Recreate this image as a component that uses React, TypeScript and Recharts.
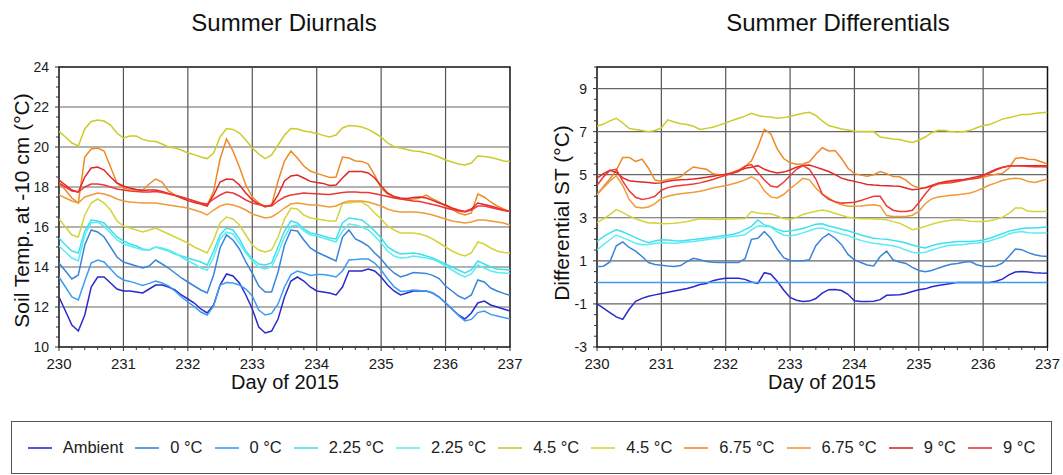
import React from 'react';
import { LineChart, Line, XAxis, YAxis, ReferenceLine, ReferenceArea } from 'recharts';

const FONT = '"Liberation Sans", Arial, Helvetica, sans-serif';

// ---------- categories (day of 2015) ----------
const days = [
  230.0, 230.1, 230.2, 230.3, 230.4, 230.5, 230.6, 230.7, 230.8, 230.9,
  231.0, 231.1, 231.2, 231.3, 231.4, 231.5, 231.6, 231.7, 231.8, 231.9,
  232.0, 232.1, 232.2, 232.3, 232.4, 232.5, 232.6, 232.7, 232.8, 232.9,
  233.0, 233.1, 233.2, 233.3, 233.4, 233.5, 233.6, 233.7, 233.8, 233.9,
  234.0, 234.1, 234.2, 234.3, 234.4, 234.5, 234.6, 234.7, 234.8, 234.9,
  235.0, 235.1, 235.2, 235.3, 235.4, 235.5, 235.6, 235.7, 235.8, 235.9,
  236.0, 236.1, 236.2, 236.3, 236.4, 236.5, 236.6, 236.7, 236.8, 236.9,
  237.0,
];

// ---------- Summer Diurnals (soil temperature, °C) ----------
const leftAmbient = [
  12.5, 11.8, 11.1, 10.8, 11.6, 13.0, 13.5, 13.5, 13.2, 12.9,
  12.8, 12.8, 12.75, 12.7, 12.9, 13.1, 13.1, 13.0, 12.85, 12.6,
  12.4, 12.2, 11.9, 11.7, 12.1, 13.1, 13.65, 13.55, 13.2, 12.6,
  11.9, 11.0, 10.7, 10.8, 11.4, 12.5, 13.3, 13.5, 13.3, 13.0,
  12.8, 12.75, 12.7, 12.6, 13.0, 13.8, 13.8, 13.8, 13.9, 13.8,
  13.5, 13.1, 12.8, 12.6, 12.7, 12.8, 12.8, 12.8, 12.7, 12.5,
  12.2, 11.9, 11.6, 11.4, 11.7, 12.2, 12.3, 12.1, 12.0, 11.9,
  11.8,
];
const left0a = [
  14.2, 13.8, 13.4, 13.6, 15.1, 15.85, 15.75, 15.5, 15.0, 14.5,
  14.25, 14.15, 14.05, 13.95, 14.05, 14.35, 14.15, 13.95, 13.7, 13.45,
  13.25, 13.05, 12.85, 12.7, 13.6, 14.95, 15.6, 15.35, 14.9, 14.25,
  13.7, 13.05, 12.75, 12.75, 13.75, 15.1, 15.85, 15.8, 15.35, 14.95,
  14.75, 14.6, 14.45, 14.3, 15.5, 15.85, 15.4, 15.25, 15.05, 14.7,
  14.4, 14.0, 13.7, 13.5, 13.6, 13.72, 13.7, 13.68, 13.58, 13.42,
  13.05, 12.8, 12.55, 12.4, 12.6, 13.35, 13.25, 12.95, 12.8, 12.68,
  12.58,
];
const left0b = [
  13.5, 13.0, 12.5, 12.35, 13.3, 14.2, 14.35, 14.25, 13.9, 13.55,
  13.35, 13.28, 13.18, 13.08, 13.18, 13.3, 13.2, 13.05, 12.8, 12.5,
  12.25, 12.02, 11.75, 11.6, 12.05, 13.1, 13.22, 13.2, 13.1, 12.9,
  12.55, 11.85, 11.6, 11.68, 12.15, 13.0, 13.62, 13.8, 13.7, 13.58,
  13.62, 13.62, 13.58, 13.5, 13.8, 14.35, 14.37, 14.4, 14.4, 14.2,
  13.85, 13.4, 13.02, 12.78, 12.8, 12.85, 12.82, 12.8, 12.7, 12.5,
  12.2, 11.9, 11.58, 11.3, 11.38, 11.72, 11.8, 11.63, 11.55, 11.47,
  11.4,
];
const left225a = [
  15.45, 15.1, 14.8, 14.7, 15.8, 16.35, 16.3, 16.2, 15.85, 15.5,
  15.3, 15.15, 15.05, 14.9, 14.85, 15.0, 14.9, 14.8, 14.65, 14.55,
  14.45, 14.35, 14.25, 14.1, 14.8, 15.6, 15.95, 15.85, 15.4, 14.8,
  14.4, 14.15, 14.1, 14.2, 15.0, 15.8, 16.3, 16.2, 15.9, 15.7,
  15.65, 15.55, 15.45, 15.4, 16.2, 16.45, 16.4, 16.35, 16.1, 15.8,
  15.45, 15.0, 14.8, 14.65, 14.68, 14.7, 14.65, 14.55, 14.45, 14.3,
  14.15, 14.0, 13.85, 13.7, 13.85, 14.3, 14.15, 14.0, 13.9, 13.88,
  13.85,
];
const left225b = [
  15.05, 14.75, 14.45, 14.3, 15.6, 16.2, 16.25, 16.05, 15.7, 15.35,
  15.15, 15.05, 14.95, 14.85, 14.85, 15.0, 14.95, 14.85, 14.7, 14.5,
  14.3, 14.15, 13.95, 13.85, 14.5, 15.4, 15.75, 15.65, 15.2, 14.7,
  14.3, 14.0, 13.9, 14.0, 14.7, 15.5, 16.05, 16.1, 15.8, 15.6,
  15.55, 15.45, 15.35, 15.25, 15.8, 16.15, 16.1, 16.0, 15.85, 15.55,
  15.2, 14.8, 14.55, 14.45, 14.48, 14.55, 14.5, 14.45, 14.38, 14.25,
  14.05, 13.85, 13.65, 13.5, 13.65, 14.1, 13.95, 13.8, 13.72, 13.7,
  13.68,
];
const left45a = [
  20.78, 20.5, 20.2, 20.05, 20.9, 21.28, 21.35, 21.3, 21.1, 20.7,
  20.45, 20.55, 20.55, 20.38, 20.3, 20.27, 20.15, 20.0, 19.95, 19.85,
  19.7, 19.62, 19.5, 19.42, 19.7, 20.5, 20.92, 20.88, 20.7, 20.35,
  19.95, 19.65, 19.42, 19.6, 20.1, 20.6, 20.92, 20.9, 20.8, 20.75,
  20.68, 20.58, 20.5, 20.6, 20.95, 21.07, 21.05, 21.0, 20.88, 20.7,
  20.5, 20.2, 20.02, 19.95, 19.88, 19.8, 19.77, 19.7, 19.62, 19.5,
  19.35, 19.25, 19.15, 19.1, 19.2, 19.55, 19.52, 19.48, 19.4, 19.3,
  19.27,
];
const left45b = [
  16.4, 16.0, 15.6, 15.5, 16.6, 17.2, 17.4, 17.2, 16.85, 16.3,
  16.05, 15.95, 15.85, 15.75, 15.85, 15.95, 15.8, 15.65, 15.5, 15.35,
  15.2, 15.0, 14.85, 14.7, 15.35, 16.2, 16.5, 16.4, 16.1, 15.6,
  15.1, 14.85, 14.75, 14.85, 15.5, 16.4, 16.95, 16.9, 16.6, 16.45,
  16.4, 16.35, 16.3, 16.3, 17.2, 17.2, 17.25, 17.25, 17.05, 16.7,
  16.4, 16.05, 15.85, 15.7, 15.7, 15.7, 15.65, 15.55, 15.4, 15.2,
  15.0, 14.8, 14.65, 14.55, 14.7, 15.25, 15.15, 14.95, 14.8, 14.72,
  14.7,
];
const left675a = [
  18.2, 17.85, 17.45, 17.2, 19.5, 19.9, 19.95, 19.8, 19.0, 18.2,
  17.95, 17.88, 17.85, 17.85, 18.15, 18.4, 18.25, 17.8, 17.6, 17.5,
  17.4, 17.3, 17.2, 17.1, 17.8, 19.4, 20.4, 19.8, 19.0, 18.1,
  17.5, 17.2, 17.0, 17.1, 18.3, 19.3, 19.8, 19.45, 19.05, 18.8,
  18.68, 18.58, 18.48, 18.5, 19.5, 19.45, 19.3, 19.28, 19.15, 18.6,
  17.95, 17.65, 17.5, 17.4, 17.38, 17.4, 17.45, 17.6, 17.4, 17.25,
  17.05, 16.9, 16.7, 16.6, 16.7, 17.65, 17.5, 17.25, 17.05, 16.9,
  16.77,
];
const left675b = [
  17.6, 17.45, 17.3, 17.2, 17.5, 17.6, 17.7, 17.65, 17.55, 17.4,
  17.3, 17.25, 17.22, 17.2, 17.2, 17.2, 17.15, 17.1, 17.05, 17.0,
  16.95, 16.85, 16.75, 16.6, 16.85, 17.05, 17.15, 17.1, 17.0, 16.85,
  16.65, 16.55, 16.45, 16.5, 16.7, 16.95, 17.15, 17.2, 17.15, 17.1,
  17.1, 17.05, 17.0, 17.05, 17.2, 17.3, 17.3, 17.3, 17.25, 17.15,
  17.05, 16.9, 16.8, 16.75, 16.75, 16.75, 16.72, 16.68, 16.6, 16.5,
  16.4, 16.3, 16.25, 16.2, 16.25, 16.35, 16.35, 16.3, 16.25, 16.2,
  16.1,
];
const left9a = [
  18.35, 18.1, 17.85, 17.75, 18.5, 18.95, 19.0, 18.85, 18.5, 18.2,
  18.05, 17.95, 17.88, 17.82, 17.85, 17.85, 17.78, 17.68, 17.58, 17.45,
  17.32, 17.22, 17.15, 17.05, 17.6, 18.25, 18.4, 18.38, 18.1, 17.7,
  17.35, 17.15, 17.02, 17.1, 17.6, 18.3, 18.55, 18.6, 18.45, 18.28,
  18.22, 18.18, 18.08, 18.1, 18.45, 18.77, 18.77, 18.77, 18.7, 18.45,
  18.05, 17.7, 17.52, 17.45, 17.43, 17.48, 17.5, 17.45, 17.33, 17.2,
  17.1, 16.95, 16.85, 16.78, 16.9, 17.2, 17.12, 17.05, 16.95, 16.85,
  16.77,
];
const left9b = [
  18.2, 18.0, 17.8, 17.75, 18.0, 18.15, 18.15, 18.1, 18.0, 17.9,
  17.85, 17.8, 17.78, 17.75, 17.75, 17.77, 17.72, 17.65, 17.58, 17.5,
  17.4, 17.3, 17.2, 17.15, 17.4, 17.6, 17.75, 17.7, 17.55, 17.35,
  17.2, 17.12, 17.05, 17.05, 17.3, 17.5, 17.6, 17.65, 17.7, 17.68,
  17.66, 17.64, 17.62, 17.68, 17.72, 17.75, 17.75, 17.73, 17.72, 17.66,
  17.6, 17.52, 17.45, 17.4, 17.35, 17.3, 17.27, 17.2, 17.12, 17.05,
  16.95, 16.87, 16.8, 16.75, 16.85, 17.05, 17.05, 16.98, 16.9, 16.83,
  16.77,
];

// ---------- Summer Differentials (°C) ----------
const rightAmbient = [
  -1.0, -1.2, -1.4, -1.6, -1.72, -1.25, -0.88, -0.74, -0.64, -0.58,
  -0.52, -0.46, -0.4, -0.34, -0.28, -0.2, -0.1, -0.05, 0.08, 0.15,
  0.19, 0.19, 0.19, 0.14, 0.02, -0.05, 0.45, 0.38, 0.05, -0.35,
  -0.7, -0.83, -0.89, -0.87, -0.75, -0.5, -0.34, -0.33, -0.38, -0.55,
  -0.85, -0.89, -0.89, -0.88, -0.8, -0.6, -0.58, -0.57, -0.52, -0.42,
  -0.34, -0.3, -0.2, -0.14, -0.1, -0.05, 0.0, 0.0, 0.0, 0.0,
  0.0, 0.0, 0.05, 0.15, 0.35, 0.48, 0.5, 0.48, 0.45, 0.43,
  0.42,
];
const right0a = [
  0.72, 0.75, 0.95, 1.7, 1.88, 1.62, 1.45, 1.2, 0.92, 0.83,
  0.8, 0.76, 0.74, 0.78, 0.97, 1.12, 1.05, 0.97, 0.94, 0.92,
  0.92, 0.92, 0.92, 1.1, 2.0, 2.05, 2.36, 2.05, 1.55, 1.15,
  1.02, 1.0, 1.0, 1.05, 1.7, 2.05, 2.25, 2.05, 1.75, 1.3,
  1.05, 0.92, 0.81, 0.76, 1.2, 1.45, 1.05, 0.95, 0.88, 0.7,
  0.55, 0.5, 0.55, 0.66, 0.76, 0.84, 0.88, 0.93, 0.97, 0.82,
  0.75, 0.74, 0.76, 0.89, 1.2, 1.55, 1.52, 1.38, 1.28, 1.22,
  1.2,
];
const right0b = [
  0, 0, 0, 0, 0, 0, 0, 0, 0, 0,
  0, 0, 0, 0, 0, 0, 0, 0, 0, 0,
  0, 0, 0, 0, 0, 0, 0, 0, 0, 0,
  0, 0, 0, 0, 0, 0, 0, 0, 0, 0,
  0, 0, 0, 0, 0, 0, 0, 0, 0, 0,
  0, 0, 0, 0, 0, 0, 0, 0, 0, 0,
  0, 0, 0, 0, 0, 0, 0, 0, 0, 0,
  0,
];
const right225a = [
  1.9, 2.12, 2.3, 2.44, 2.35, 2.22, 2.08, 1.95, 1.84, 1.92,
  1.98, 1.97, 1.93, 1.92, 1.96, 1.99, 2.03, 2.06, 2.1, 2.14,
  2.18, 2.22, 2.3, 2.45, 2.6, 2.9, 2.67, 2.6, 2.46, 2.36,
  2.38, 2.44, 2.5, 2.6, 2.7, 2.72, 2.62, 2.55, 2.47, 2.4,
  2.3, 2.2, 2.12, 2.05, 2.02, 2.0, 1.95, 1.9, 1.83, 1.74,
  1.65, 1.6, 1.7, 1.78, 1.83, 1.86, 1.9, 1.9, 1.9, 1.92,
  1.97, 2.05, 2.15, 2.26, 2.38, 2.44, 2.5, 2.52, 2.52, 2.55,
  2.58,
];
const right225b = [
  1.51, 1.75, 1.98, 2.2, 2.08, 1.95, 1.82, 1.75, 1.76, 1.8,
  1.84, 1.83, 1.82, 1.84, 1.88, 1.9, 1.94, 1.98, 2.02, 2.05,
  2.09, 2.13, 2.17, 2.21, 2.44, 2.62, 2.6, 2.58, 2.35, 2.2,
  2.15, 2.21, 2.3, 2.4, 2.5, 2.52, 2.42, 2.34, 2.25, 2.18,
  2.05, 1.95, 1.87, 1.82, 1.78, 1.74, 1.7, 1.62, 1.5, 1.4,
  1.36, 1.4, 1.5, 1.59, 1.68, 1.74, 1.74, 1.76, 1.8, 1.82,
  1.86, 1.92, 2.02, 2.12, 2.25, 2.33, 2.36, 2.3, 2.29, 2.29,
  2.29,
];
const right45a = [
  7.25, 7.35, 7.5, 7.62, 7.4, 7.15, 7.1, 7.05, 7.0, 7.05,
  7.17, 7.55, 7.45, 7.37, 7.33, 7.25, 7.1, 7.15, 7.2, 7.3,
  7.4, 7.52, 7.62, 7.72, 7.85, 7.75, 7.7, 7.68, 7.62, 7.65,
  7.7, 7.78, 7.85, 7.9, 7.75, 7.5, 7.28, 7.2, 7.12, 7.08,
  7.02, 7.0, 7.0, 7.0, 6.75, 6.7, 6.66, 6.63, 6.55, 6.5,
  6.6, 6.75, 6.95, 7.06, 7.05, 7.0, 6.98, 7.0, 7.06, 7.18,
  7.28, 7.33, 7.45, 7.58, 7.64, 7.72, 7.79, 7.8, 7.84, 7.88,
  7.9,
];
const right45b = [
  2.78, 2.95, 3.15, 3.38, 3.25, 3.08, 2.95, 2.85, 2.76, 2.77,
  2.72, 2.73, 2.75, 2.78, 2.83, 2.9, 2.94, 2.94, 2.93, 2.92,
  2.94, 2.94, 2.95, 2.96, 3.29, 3.22, 3.19, 3.19, 3.08, 2.96,
  2.91, 3.02, 3.15, 3.23, 3.3, 3.36, 3.3, 3.2, 3.12, 3.02,
  2.98, 2.96, 2.95, 2.94, 2.93, 2.91, 2.82, 2.75, 2.6, 2.45,
  2.5, 2.6, 2.7, 2.78, 2.84, 2.88, 2.91, 2.88, 2.84, 2.83,
  2.83, 2.86, 2.93, 3.02, 3.2, 3.45, 3.45, 3.3, 3.29, 3.29,
  3.29,
];
const right675a = [
  4.07, 4.45, 4.8, 5.2, 5.8, 5.8, 5.62, 5.72, 5.3, 4.75,
  4.7, 4.78, 4.82, 4.9, 5.15, 5.36, 5.3, 5.25, 5.05, 5.0,
  5.0, 5.1, 5.22, 5.38, 5.65, 6.3, 7.1, 6.9, 6.2, 5.75,
  5.55, 5.48, 5.5, 5.6, 5.95, 6.25, 6.1, 6.12, 5.75, 5.3,
  5.05, 4.98, 4.93, 5.0, 5.15, 5.05, 4.92, 4.9, 4.75, 4.5,
  4.38, 4.38, 4.45, 4.55, 4.6, 4.67, 4.72, 4.76, 4.8, 4.83,
  4.88, 4.96, 5.02, 5.06, 5.3, 5.75, 5.8, 5.72, 5.7, 5.6,
  5.5,
];
const right675b = [
  4.07, 4.4, 4.7, 4.95, 4.5, 3.85, 3.5, 3.45, 3.5, 3.66,
  3.9, 4.0, 4.07, 4.12, 4.15, 4.18, 4.23, 4.3, 4.38, 4.44,
  4.49, 4.57, 4.65, 4.76, 4.9, 4.72, 4.25, 3.97, 3.92, 4.08,
  4.35, 4.58, 4.83, 4.76, 4.38, 4.1, 3.92, 3.72, 3.6, 3.53,
  3.53, 3.55, 3.58, 3.6, 3.55, 3.1, 3.06, 3.06, 3.06, 3.12,
  3.3, 3.65, 3.88, 3.96, 4.0, 4.04, 4.07, 4.1, 4.15, 4.25,
  4.38, 4.52, 4.62, 4.73, 4.8, 4.84, 4.8, 4.68, 4.64, 4.72,
  4.8,
];
const right9a = [
  4.84, 5.05, 5.2, 5.1, 4.85, 4.72, 4.68, 4.66, 4.64, 4.6,
  4.62, 4.7, 4.74, 4.77, 4.78, 4.8, 4.84, 4.88, 4.93, 4.98,
  5.02, 5.08, 5.18, 5.3, 5.35, 5.42, 5.25, 5.15, 5.08, 5.12,
  5.22, 5.35, 5.43, 5.45, 5.35, 5.25, 5.15, 5.0, 4.84, 4.75,
  4.69, 4.62, 4.55, 4.52, 4.5, 4.49, 4.47, 4.46, 4.38, 4.3,
  4.33, 4.4, 4.5, 4.6, 4.67, 4.72, 4.75, 4.78, 4.84, 4.9,
  4.98, 5.12, 5.25, 5.35, 5.4, 5.42, 5.42, 5.42, 5.42, 5.42,
  5.42,
];
const right9b = [
  4.5, 4.9, 5.2, 5.25, 4.7, 4.25, 3.95, 3.85, 3.9, 4.0,
  4.28, 4.4, 4.46, 4.5, 4.53, 4.57, 4.62, 4.7, 4.78, 4.88,
  4.97, 5.07, 5.15, 5.4, 5.47, 5.1, 4.75, 4.47, 4.42, 4.65,
  4.95, 5.25, 5.42, 5.25, 4.8, 4.1, 3.86, 3.75, 3.68, 3.7,
  3.72, 3.8, 3.9, 4.0, 4.0, 3.55, 3.35, 3.29, 3.29, 3.35,
  3.7, 4.1, 4.45, 4.6, 4.61, 4.62, 4.68, 4.74, 4.8, 4.83,
  4.95, 5.08, 5.22, 5.33, 5.4, 5.42, 5.4, 5.38, 5.37, 5.37,
  5.36,
];

// ---------- series labels / colours ----------
const seriesNames = ['Ambient', '0 °C', '0 °C', '2.25 °C', '2.25 °C', '4.5 °C', '4.5 °C', '6.75 °C', '6.75 °C', '9 °C', '9 °C'];
const seriesColors = ['#2a2ad0', '#3a84dc', '#3c9df0', '#3ee0ee', '#5cecf4', '#cccc28', '#d4d43a', '#ee8a26', '#f09a38', '#e42626', '#ee3838'];

// ---------- tick labels ----------
const xTickLabels = [230, 231, 232, 233, 234, 235, 236, 237];
const leftYTickLabels = [10, 12, 14, 16, 18, 20, 22, 24];
const rightYTickLabels = [-3, -1, 1, 3, 5, 7, 9];
const leftGridY = [12, 14, 16, 18, 20, 22];
const rightGridY = [-1, 1, 3, 5, 7, 9];
const gridX = [231, 232, 233, 234, 235, 236];

function minorTicks(from: number, to: number, step: number) {
  const out: number[] = [];
  const n = Math.round((to - from) / step);
  for (let i = 0; i <= n; i++) out.push(Math.round((from + i * step) * 1000) / 1000);
  return out;
}
const xTicksAll = minorTicks(230, 237, 0.2);
const leftYTicksAll = minorTicks(10, 24, 0.5);
const rightYTicksAll = minorTicks(-3, 10, 0.5);

const leftSeries = [leftAmbient, left0a, left0b, left225a, left225b, left45a, left45b, left675a, left675b, left9a, left9b];
const rightSeries = [rightAmbient, right0a, right0b, right225a, right225b, right45a, right45b, right675a, right675b, right9a, right9b];

function buildRows(series: number[][]) {
  return days.map((day, i) => {
    const row: any = { day };
    series.forEach((arr, k) => {
      row['s' + k] = arr[i];
    });
    return row;
  });
}
const leftRows = buildRows(leftSeries);
const rightRows = buildRows(rightSeries);

const isMajor = (list: number[], v: number) => list.some((m) => Math.abs(m - v) < 1e-6);

const makeXTick = (majors: number[]) => (props: any) => {
  const { x, y, payload } = props;
  const v = payload.value;
  const major = isMajor(majors, v);
  return (
    <g>
      <line x1={x} x2={x} y1={y} y2={y + (major ? 4 : 3)} stroke="#333" strokeWidth={1} />
      {major && (
        <text x={x} y={y + 22} textAnchor="middle" fontSize={15} fill="#1a1a1a" fontFamily={FONT}>
          {v}
        </text>
      )}
    </g>
  );
};

const makeYTick = (majors: number[]) => (props: any) => {
  const { x, y, payload } = props;
  const v = payload.value;
  const major = isMajor(majors, v);
  return (
    <g>
      <line x1={x - (major ? 4 : 3)} x2={x} y1={y} y2={y} stroke="#333" strokeWidth={1} />
      {major && (
        <text x={x - 10} y={y} textAnchor="end" dominantBaseline="central" fontSize={14} fill="#1a1a1a" fontFamily={FONT}>
          {v}
        </text>
      )}
    </g>
  );
};

type PanelProps = {
  left: number;
  width: number;
  plotLeft: number;
  plotRight: number;
  rows: any[];
  yDomain: [number, number];
  yMajors: number[];
  yTicks: number[];
  gridY: number[];
};

function Panel({ left, width, plotLeft, plotRight, rows, yDomain, yMajors, yTicks, gridY }: PanelProps) {
  return (
    <div style={{ position: 'absolute', left, top: 0, width, height: 400 }}>
      <LineChart
        width={width}
        height={400}
        data={rows}
        margin={{ top: 67, right: width - plotRight, bottom: 23, left: plotLeft - 40 }}
      >
        <XAxis
          dataKey="day"
          type="number"
          domain={[230, 237]}
          ticks={xTicksAll}
          interval={0}
          allowDataOverflow
          height={30}
          tickSize={0}
          tickMargin={0}
          axisLine={false}
          tickLine={false}
          tick={makeXTick(xTickLabels)}
        />
        <YAxis
          type="number"
          domain={yDomain}
          ticks={yTicks}
          interval={0}
          allowDataOverflow
          width={40}
          tickSize={0}
          tickMargin={0}
          axisLine={false}
          tickLine={false}
          tick={makeYTick(yMajors)}
        />
        {gridX.map((v) => (
          <ReferenceLine key={'gx' + v} x={v} stroke="#555" strokeWidth={1.2} />
        ))}
        {gridY.map((v) => (
          <ReferenceLine key={'gy' + v} y={v} stroke="#666" strokeWidth={1.2} />
        ))}
        {seriesNames.map((name, k) => (
          <Line
            key={k}
            type="linear"
            dataKey={'s' + k}
            name={name}
            stroke={seriesColors[k]}
            strokeWidth={1.5}
            dot={false}
            activeDot={false}
            isAnimationActive={false}
          />
        ))}
        <ReferenceArea x1={230} x2={237} y1={yDomain[0]} y2={yDomain[1]} fill="none" fillOpacity={0} stroke="#111" strokeWidth={1.5} />
      </LineChart>
    </div>
  );
}

export default function App() {
  return (
    <div style={{ position: 'absolute', left: 0, top: 0, width: 1063, height: 475, background: '#fff', fontFamily: FONT }}>
      <svg width={1063} height={475} style={{ position: 'absolute', left: 0, top: 0 }}>
        <text x={284} y={31} textAnchor="middle" fontSize={24} fill="#111" fontFamily={FONT}>Summer Diurnals</text>
        <text x={838} y={31} textAnchor="middle" fontSize={24} fill="#111" fontFamily={FONT}>Summer Differentials</text>
        <text x={285} y={389} textAnchor="middle" fontSize={20} fill="#111" fontFamily={FONT}>Day of 2015</text>
        <text x={822} y={389} textAnchor="middle" fontSize={20} fill="#111" fontFamily={FONT}>Day of 2015</text>
        <text x={21.5} y={210.5} transform="rotate(-90 21.5 210.5)" textAnchor="middle" dominantBaseline="central" fontSize={21} fill="#111" fontFamily={FONT}>
          Soil Temp. at -10 cm (°C)
        </text>
        <text x={561.5} y={213} transform="rotate(-90 561.5 213)" textAnchor="middle" dominantBaseline="central" fontSize={21} fill="#111" fontFamily={FONT}>
          Differential ST (°C)
        </text>
      </svg>
      <Panel left={0} width={540} plotLeft={59} plotRight={510} rows={leftRows} yDomain={[10, 24]} yMajors={leftYTickLabels} yTicks={leftYTicksAll} gridY={leftGridY} />
      <Panel left={540} width={523} plotLeft={57} plotRight={507.5} rows={rightRows} yDomain={[-3, 10]} yMajors={rightYTickLabels} yTicks={rightYTicksAll} gridY={rightGridY} />
      <div
        style={{
          position: 'absolute',
          left: 11,
          top: 421,
          width: 1041,
          height: 53,
          border: '1px solid #555',
          boxSizing: 'border-box',
          display: 'flex',
          alignItems: 'center',
          justifyContent: 'center',
          fontSize: 16.5,
          color: '#222',
        }}
      >
        {seriesNames.map((name, k) => (
          <div key={k} style={{ display: 'flex', alignItems: 'center', marginRight: k < seriesNames.length - 1 ? 12 : 0 }}>
            <svg width={24} height={4} style={{ display: 'block' }}>
              <line x1={0} x2={24} y1={2} y2={2} stroke={seriesColors[k]} strokeWidth={2} strokeOpacity={0.8} />
            </svg>
            <span style={{ marginLeft: 11, whiteSpace: 'nowrap' }}>{name}</span>
          </div>
        ))}
      </div>
    </div>
  );
}
